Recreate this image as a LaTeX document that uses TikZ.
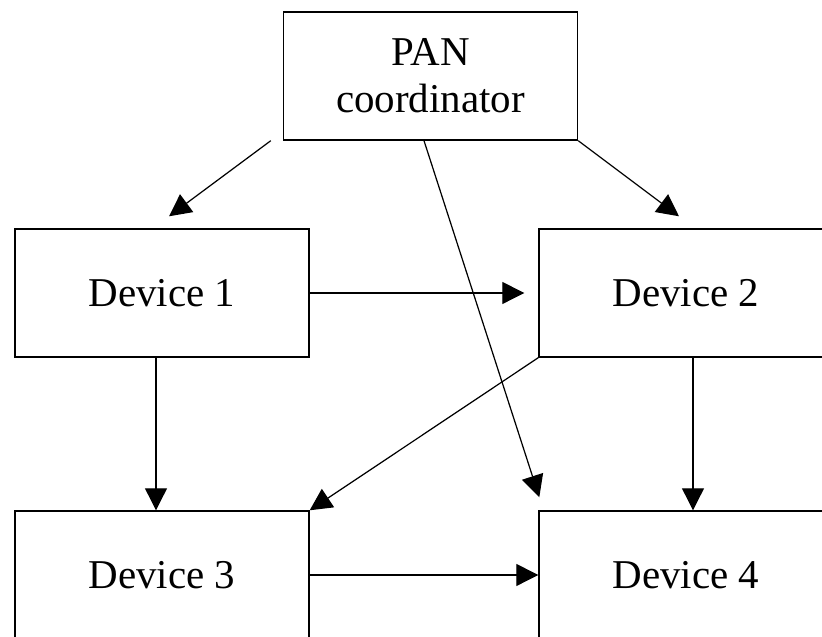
\documentclass[tikz,border=0pt]{standalone}
\usepackage{fontspec}
\setmainfont{Liberation Serif}
\usepackage{tikz}
\usetikzlibrary{calc,arrows.meta}

\tikzset{
	devbox/.style={draw, line width=.8pt, minimum width=5.88cm, minimum height=2.56cm, inner sep=0pt, align=center, font=\fontsize{23.3}{26.7}\selectfont},
	link/.style={line width=.7pt, -{Triangle[length=.44cm,width=.44cm]}}
}

\begin{document}
\begin{tikzpicture}
	\clip (0,0) rectangle (16.44,12.74);
	\node[devbox] (pan) at (8.61,11.22) {PAN\\coordinator};
	\node[devbox] (d1) at (3.24,6.88) {Device 1};
	\node[devbox] (d2) at (13.72,6.88) {Device 2};
	\node[devbox] (d3) at (3.24,1.24) {Device 3};
	\node[devbox] (d4) at (13.72,1.24) {Device 4};
	
	\draw[link] ($(pan.south west)+(-.24,0)$) -- ($(d1.north)+(.14,.24)$);
	\draw[link] (pan.south east) -- ($(d2.north)+(-.14,.24)$);
	\draw[link] ($(pan.south)+(-.13,0)$) -- ($(d4.north west)+(.02,.26)$);
	
	\draw[link] (d1.east) -- ($(d2.west)+(-.28,0)$);
	\draw[link] ($(d1.south)+(-.12,0)$) -- ($(d3.north)+(-.12,0)$);
	\draw[link] (d2.south west) -- (d3.north east);
	\draw[link] ($(d2.south)+(.14,0)$) -- ($(d4.north)+(.14,0)$);
	\draw[link] (d3.east) -- (d4.west);
\end{tikzpicture}
\end{document}
